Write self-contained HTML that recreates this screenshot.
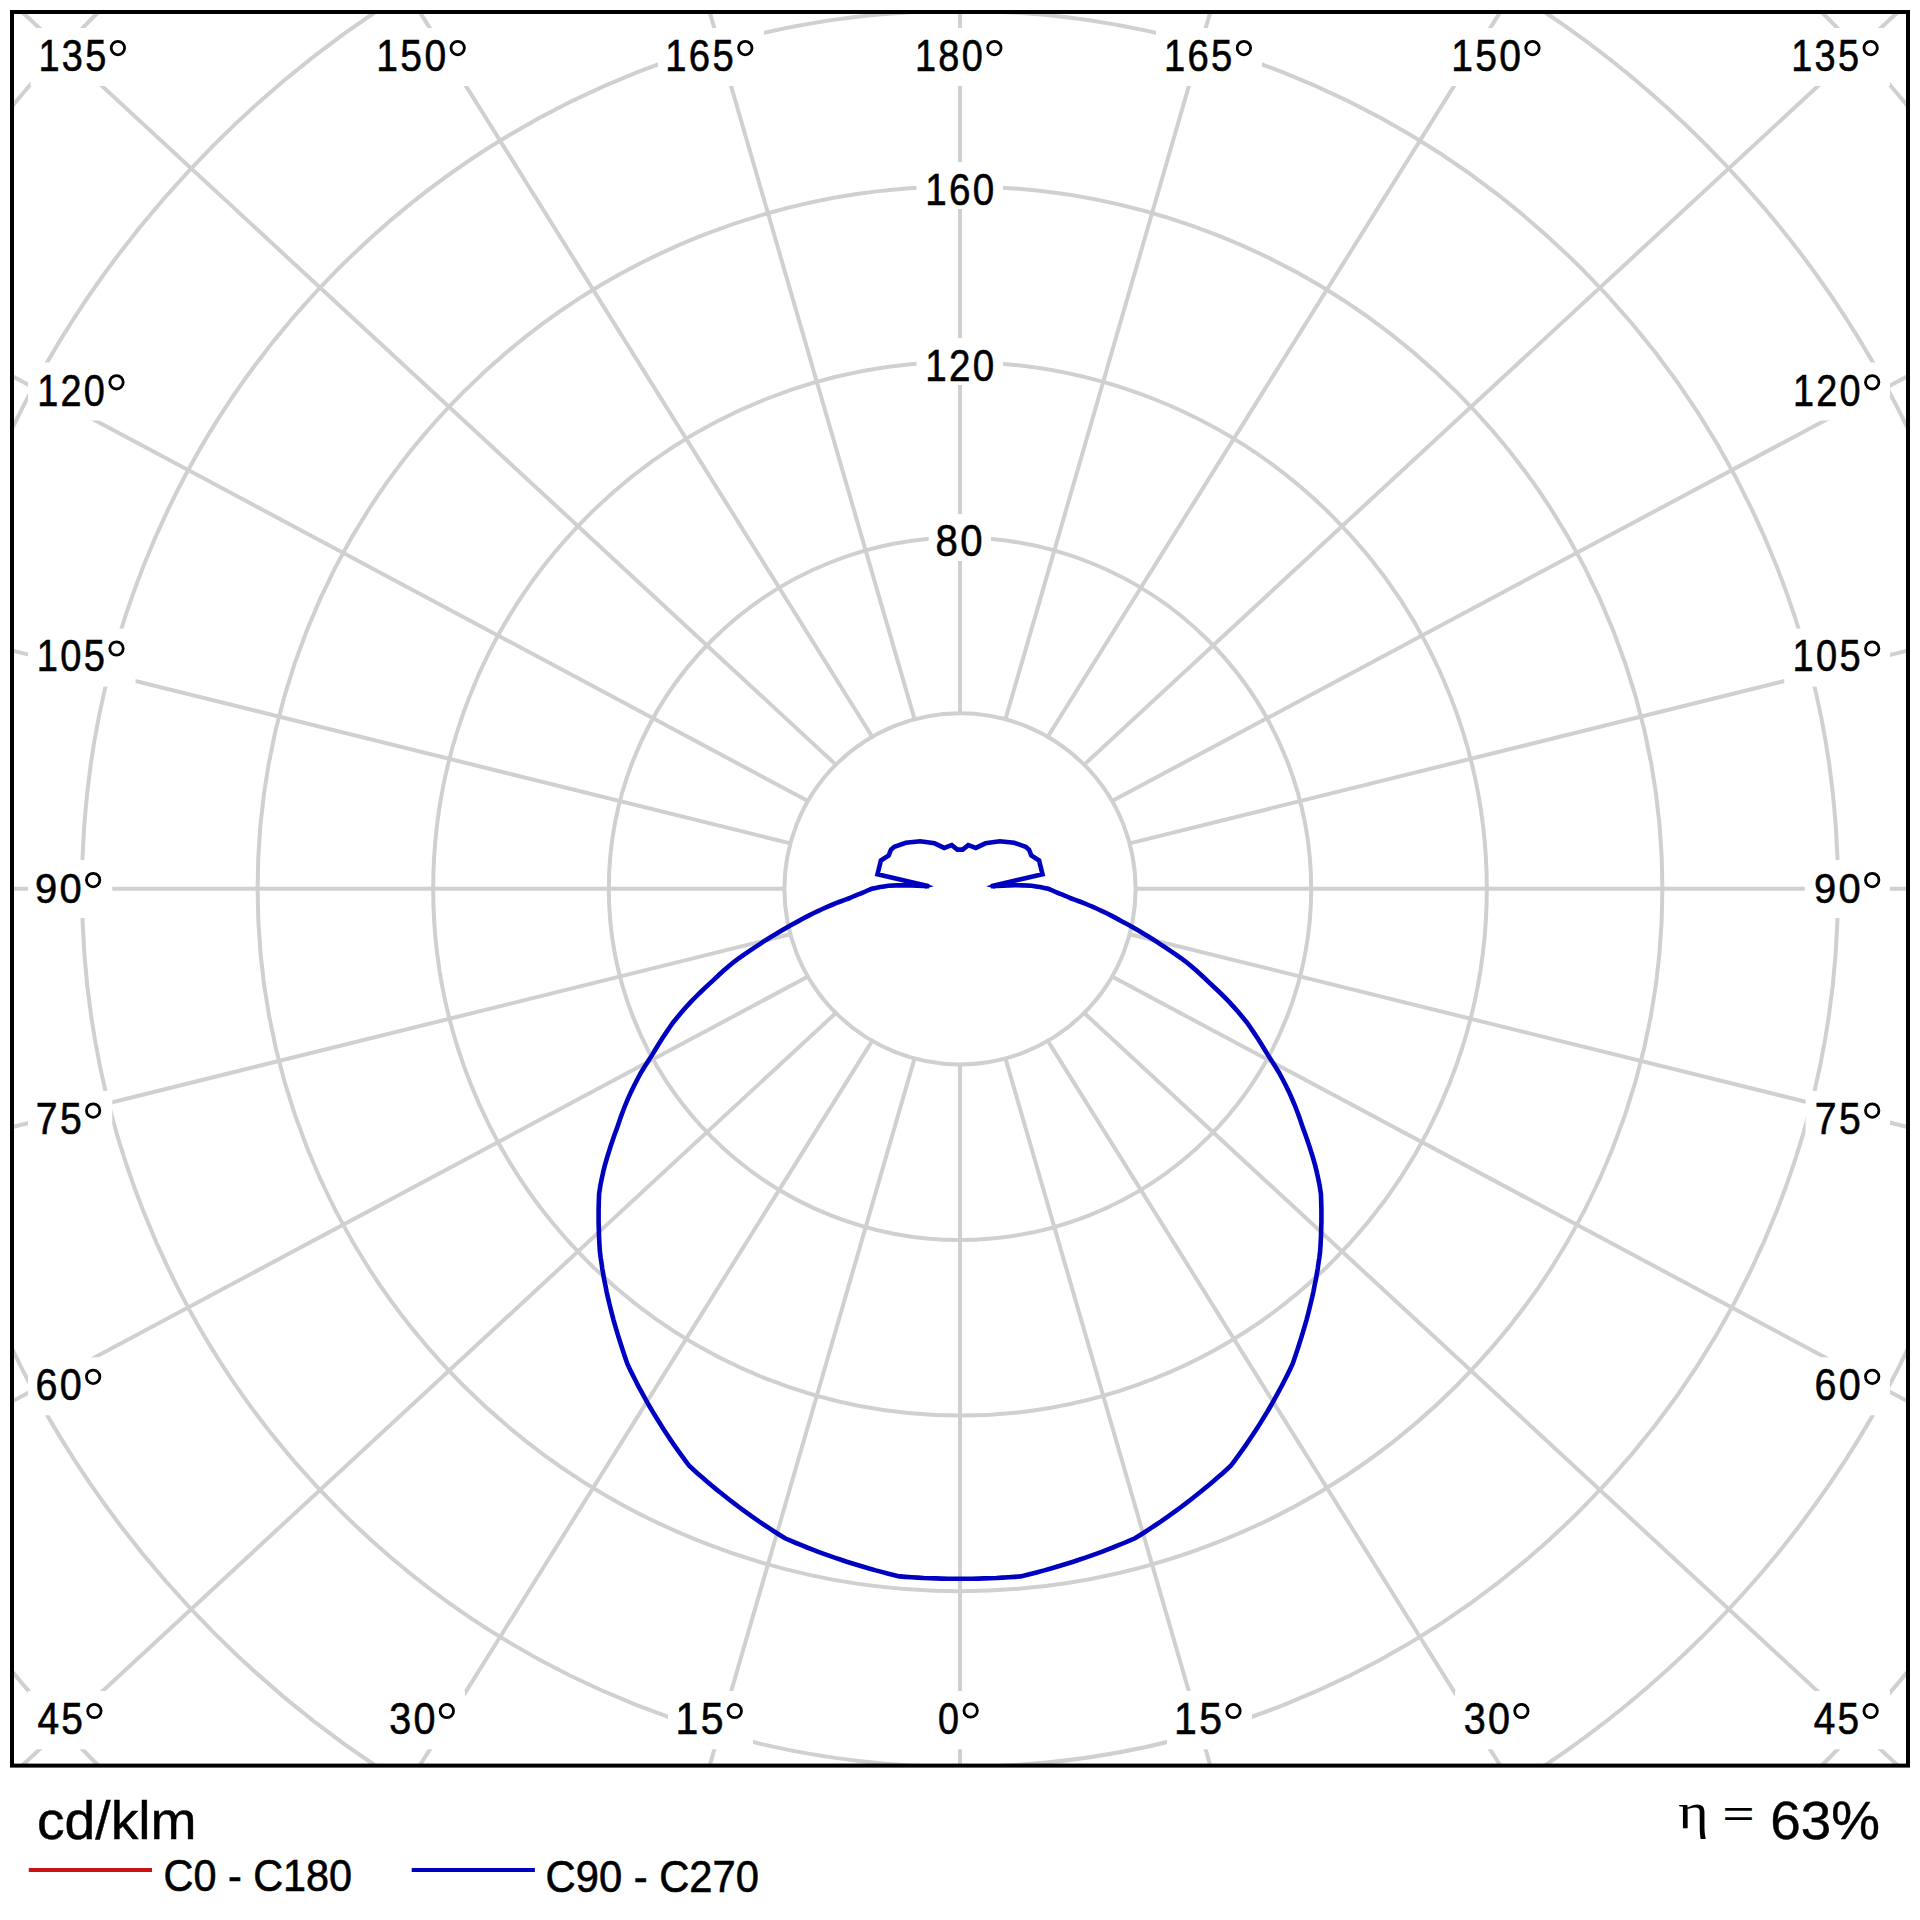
<!DOCTYPE html>
<html><head><meta charset="utf-8"><style>html,body{margin:0;padding:0;background:#fff;}svg{display:block;}</style></head>
<body>
<svg width="1920" height="1920" viewBox="0 0 1920 1920">
<defs><clipPath id="c"><rect x="12" y="12" width="1896" height="1753.6"/></clipPath></defs>
<rect width="1920" height="1920" fill="#fff"/>
<g clip-path="url(#c)" fill="none" stroke="#d0d0d0" stroke-width="4">
<circle cx="960.0" cy="888.8" r="175.60"/>
<circle cx="960.0" cy="888.8" r="351.20"/>
<circle cx="960.0" cy="888.8" r="526.80"/>
<circle cx="960.0" cy="888.8" r="702.40"/>
<circle cx="960.0" cy="888.8" r="878.00"/>
<circle cx="960.0" cy="888.8" r="1053.60"/>
<circle cx="960.0" cy="888.8" r="1229.20"/>
<line x1="960.00" y1="1064.40" x2="960.00" y2="4064.40"/>
<line x1="1005.45" y1="1058.42" x2="1840.31" y2="3939.91"/>
<line x1="1047.80" y1="1040.87" x2="2636.50" y2="3585.68"/>
<line x1="1084.17" y1="1012.97" x2="3286.67" y2="3049.87"/>
<line x1="1112.07" y1="976.60" x2="3758.46" y2="2389.62"/>
<line x1="1129.62" y1="934.25" x2="4041.54" y2="1655.83"/>
<line x1="1135.60" y1="888.80" x2="4135.60" y2="888.80"/>
<line x1="1129.62" y1="843.35" x2="4041.54" y2="121.77"/>
<line x1="1112.07" y1="801.00" x2="3758.46" y2="-612.02"/>
<line x1="1084.17" y1="764.63" x2="3286.67" y2="-1272.27"/>
<line x1="1047.80" y1="736.73" x2="2636.50" y2="-1808.08"/>
<line x1="1005.45" y1="719.18" x2="1840.31" y2="-2162.31"/>
<line x1="960.00" y1="713.20" x2="960.00" y2="-2286.80"/>
<line x1="914.55" y1="719.18" x2="79.69" y2="-2162.31"/>
<line x1="872.20" y1="736.73" x2="-716.50" y2="-1808.08"/>
<line x1="835.83" y1="764.63" x2="-1366.67" y2="-1272.27"/>
<line x1="807.93" y1="801.00" x2="-1838.46" y2="-612.02"/>
<line x1="790.38" y1="843.35" x2="-2121.54" y2="121.77"/>
<line x1="784.40" y1="888.80" x2="-2215.60" y2="888.80"/>
<line x1="790.38" y1="934.25" x2="-2121.54" y2="1655.83"/>
<line x1="807.93" y1="976.60" x2="-1838.46" y2="2389.62"/>
<line x1="835.83" y1="1012.97" x2="-1366.67" y2="3049.87"/>
<line x1="872.20" y1="1040.87" x2="-716.50" y2="3585.68"/>
<line x1="914.55" y1="1058.42" x2="79.69" y2="3939.91"/>
</g>
<path d="M960.0,1578.7 L953.9,1578.7 L947.9,1578.7 L941.8,1578.6 L935.7,1578.4 L929.7,1578.2 L923.6,1578.0 L917.6,1577.6 L911.5,1577.3 L905.4,1576.9 L899.4,1576.4 L893.5,1575.0 L887.5,1573.5 L881.6,1571.9 L875.8,1570.4 L869.9,1568.7 L864.1,1567.0 L858.3,1565.3 L852.5,1563.5 L846.7,1561.7 L841.0,1559.8 L835.3,1557.9 L829.6,1555.9 L823.9,1553.8 L818.3,1551.8 L812.7,1549.6 L807.1,1547.5 L801.5,1545.2 L796.0,1543.0 L790.5,1540.7 L785.0,1538.3 L779.8,1535.0 L774.6,1531.7 L769.5,1528.4 L764.4,1525.0 L759.3,1521.6 L754.3,1518.1 L749.4,1514.6 L744.5,1511.1 L739.6,1507.5 L734.8,1503.9 L730.0,1500.2 L725.3,1496.5 L720.6,1492.8 L716.0,1489.1 L711.4,1485.3 L706.9,1481.4 L702.4,1477.6 L697.9,1473.7 L693.5,1469.8 L689.2,1465.8 L685.3,1460.6 L681.5,1455.4 L677.7,1450.1 L674.0,1444.9 L670.4,1439.6 L666.9,1434.3 L663.4,1428.9 L660.0,1423.6 L656.7,1418.2 L653.4,1412.9 L650.2,1407.5 L647.1,1402.1 L644.1,1396.7 L641.1,1391.2 L638.2,1385.8 L635.4,1380.3 L632.7,1374.9 L630.0,1369.4 L627.4,1363.9 L625.0,1357.0 L622.7,1350.1 L620.5,1343.2 L618.1,1335.6 L615.8,1327.9 L613.6,1320.3 L611.6,1312.7 L609.7,1305.0 L607.9,1297.4 L606.6,1291.7 L605.5,1285.9 L604.3,1280.2 L603.3,1274.5 L602.3,1268.8 L601.5,1263.0 L600.6,1257.3 L599.9,1251.6 L599.4,1243.9 L599.0,1236.2 L598.8,1228.6 L598.6,1222.4 L598.6,1216.2 L598.6,1210.0 L598.8,1202.0 L599.1,1194.0 L600.5,1184.7 L601.8,1178.4 L603.2,1172.1 L604.7,1165.9 L607.4,1156.5 L610.3,1147.2 L612.4,1140.9 L614.6,1134.6 L616.9,1128.4 L618.9,1122.5 L620.9,1116.6 L623.1,1110.8 L625.3,1105.0 L628.0,1098.7 L630.8,1092.4 L633.8,1086.2 L637.4,1079.2 L641.2,1072.2 L644.9,1066.2 L648.7,1060.2 L652.5,1054.4 L655.7,1049.0 L658.9,1043.7 L662.2,1038.5 L665.8,1033.1 L669.4,1027.7 L673.1,1022.5 L677.4,1017.3 L681.7,1012.1 L686.1,1007.1 L690.6,1002.1 L695.6,997.0 L700.7,992.0 L705.8,987.2 L711.0,982.4 L715.3,978.3 L719.6,974.3 L724.0,970.3 L728.4,966.5 L732.9,962.7 L738.3,958.7 L743.7,954.8 L749.2,951.1 L754.8,947.4 L760.2,943.8 L765.7,940.2 L771.2,936.8 L776.7,933.5 L782.0,930.3 L787.3,927.2 L792.6,924.3 L798.0,921.4 L803.1,918.6 L808.2,915.9 L813.3,913.3 L817.9,911.1 L822.4,909.0 L827.1,906.9 L831.7,905.0 L836.0,903.2 L840.4,901.5 L844.8,899.8 L849.2,898.3 L852.0,897.0 L854.8,895.8 L857.6,894.7 L860.5,893.6 L863.3,892.5 L865.4,891.5 L867.5,890.5 L869.6,889.6 L871.7,888.8 L875.8,887.9 L880.0,887.1 L884.1,886.4 L888.3,885.8 L896.7,885.4 L905.0,885.2 L917.0,885.6 L929.0,886.2 L877.5,874.2 L878.9,868.6 L880.9,860.5 L888.7,855.4 L891.0,849.6 L894.4,846.8 L905.8,842.8 L920.2,841.3 L934.5,843.3 L944.2,847.9 L951.7,845.1 L957.4,849.6 L962.6,849.6 L968.3,845.1 L975.8,847.9 L985.5,843.3 L999.8,841.3 L1014.2,842.8 L1025.6,846.8 L1029.0,849.6 L1031.3,855.4 L1039.1,860.5 L1041.1,868.6 L1042.5,874.2 L991.0,886.2 L1003.0,885.6 L1015.0,885.2 L1023.3,885.4 L1031.7,885.8 L1035.9,886.4 L1040.0,887.1 L1044.2,887.9 L1048.3,888.8 L1050.4,889.6 L1052.5,890.5 L1054.6,891.5 L1056.7,892.5 L1059.5,893.6 L1062.4,894.7 L1065.2,895.8 L1068.0,897.0 L1070.8,898.3 L1075.2,899.8 L1079.6,901.5 L1084.0,903.2 L1088.3,905.0 L1092.9,906.9 L1097.6,909.0 L1102.1,911.1 L1106.7,913.3 L1111.8,915.9 L1116.9,918.6 L1122.0,921.4 L1127.4,924.3 L1132.7,927.2 L1138.0,930.3 L1143.3,933.5 L1148.8,936.8 L1154.3,940.2 L1159.8,943.8 L1165.2,947.4 L1170.8,951.1 L1176.3,954.8 L1181.7,958.7 L1187.1,962.7 L1191.6,966.5 L1196.0,970.3 L1200.4,974.3 L1204.7,978.3 L1209.0,982.4 L1214.2,987.2 L1219.3,992.0 L1224.4,997.0 L1229.4,1002.1 L1233.9,1007.1 L1238.3,1012.1 L1242.6,1017.3 L1246.9,1022.5 L1250.6,1027.7 L1254.2,1033.1 L1257.8,1038.5 L1261.1,1043.7 L1264.3,1049.0 L1267.5,1054.4 L1271.3,1060.2 L1275.1,1066.2 L1278.8,1072.2 L1282.6,1079.2 L1286.2,1086.2 L1289.2,1092.4 L1292.0,1098.7 L1294.7,1105.0 L1296.9,1110.8 L1299.1,1116.6 L1301.1,1122.5 L1303.1,1128.4 L1305.4,1134.6 L1307.6,1140.9 L1309.7,1147.2 L1312.6,1156.5 L1315.3,1165.9 L1316.8,1172.1 L1318.2,1178.4 L1319.5,1184.7 L1320.9,1194.0 L1321.2,1202.0 L1321.4,1210.0 L1321.4,1216.2 L1321.4,1222.4 L1321.2,1228.6 L1321.0,1236.2 L1320.6,1243.9 L1320.1,1251.6 L1319.4,1257.3 L1318.5,1263.0 L1317.7,1268.8 L1316.7,1274.5 L1315.7,1280.2 L1314.5,1285.9 L1313.4,1291.7 L1312.1,1297.4 L1310.3,1305.0 L1308.4,1312.7 L1306.4,1320.3 L1304.2,1327.9 L1301.9,1335.6 L1299.5,1343.2 L1297.3,1350.1 L1295.0,1357.0 L1292.6,1363.9 L1290.0,1369.4 L1287.3,1374.9 L1284.6,1380.3 L1281.8,1385.8 L1278.9,1391.2 L1275.9,1396.7 L1272.9,1402.1 L1269.8,1407.5 L1266.6,1412.9 L1263.3,1418.2 L1260.0,1423.6 L1256.6,1428.9 L1253.1,1434.3 L1249.6,1439.6 L1246.0,1444.9 L1242.3,1450.1 L1238.5,1455.4 L1234.7,1460.6 L1230.8,1465.8 L1226.5,1469.8 L1222.1,1473.7 L1217.6,1477.6 L1213.1,1481.4 L1208.6,1485.3 L1204.0,1489.1 L1199.4,1492.8 L1194.7,1496.5 L1190.0,1500.2 L1185.2,1503.9 L1180.4,1507.5 L1175.5,1511.1 L1170.6,1514.6 L1165.7,1518.1 L1160.7,1521.6 L1155.6,1525.0 L1150.5,1528.4 L1145.4,1531.7 L1140.2,1535.0 L1135.0,1538.3 L1129.5,1540.7 L1124.0,1543.0 L1118.5,1545.2 L1112.9,1547.5 L1107.3,1549.6 L1101.7,1551.8 L1096.1,1553.8 L1090.4,1555.9 L1084.7,1557.9 L1079.0,1559.8 L1073.3,1561.7 L1067.5,1563.5 L1061.7,1565.3 L1055.9,1567.0 L1050.1,1568.7 L1044.2,1570.4 L1038.4,1571.9 L1032.5,1573.5 L1026.5,1575.0 L1020.6,1576.4 L1014.6,1576.9 L1008.5,1577.3 L1002.4,1577.6 L996.4,1578.0 L990.3,1578.2 L984.3,1578.4 L978.2,1578.6 L972.1,1578.7 L966.1,1578.7 Z" fill="none" stroke="#0000c0" stroke-width="4.6" stroke-linejoin="miter" stroke-miterlimit="4"/>
<polygon points="925,883.6 933.8,886.3 925,888.7" fill="#0000c0"/><polygon points="995.0,883.6 986.2,886.3 995.0,888.7" fill="#0000c0"/>
<rect x="30.50" y="28.00" width="106.50" height="58.00" fill="#fff"/>
<rect x="369.00" y="28.00" width="107.00" height="58.00" fill="#fff"/>
<rect x="658.00" y="28.00" width="106.00" height="58.00" fill="#fff"/>
<rect x="907.00" y="28.00" width="106.00" height="58.00" fill="#fff"/>
<rect x="1156.00" y="28.00" width="106.00" height="58.00" fill="#fff"/>
<rect x="1444.00" y="28.00" width="107.00" height="58.00" fill="#fff"/>
<rect x="1783.00" y="28.00" width="107.00" height="58.00" fill="#fff"/>
<rect x="28.00" y="362.53" width="107.60" height="58.00" fill="#fff"/>
<rect x="1784.70" y="362.53" width="105.30" height="58.00" fill="#fff"/>
<rect x="28.00" y="628.55" width="107.60" height="58.00" fill="#fff"/>
<rect x="1784.30" y="628.55" width="105.70" height="58.00" fill="#fff"/>
<rect x="28.00" y="859.95" width="84.25" height="58.00" fill="#fff"/>
<rect x="1804.75" y="859.95" width="85.25" height="58.00" fill="#fff"/>
<rect x="28.00" y="1090.85" width="84.25" height="58.00" fill="#fff"/>
<rect x="1805.55" y="1090.85" width="84.45" height="58.00" fill="#fff"/>
<rect x="28.00" y="1357.30" width="84.25" height="58.00" fill="#fff"/>
<rect x="1805.15" y="1357.30" width="84.85" height="58.00" fill="#fff"/>
<rect x="28.00" y="1691.00" width="85.00" height="58.30" fill="#fff"/>
<rect x="380.00" y="1691.00" width="85.00" height="58.30" fill="#fff"/>
<rect x="668.00" y="1691.00" width="85.00" height="58.30" fill="#fff"/>
<rect x="929.00" y="1691.00" width="60.00" height="58.30" fill="#fff"/>
<rect x="1167.00" y="1691.00" width="85.00" height="58.30" fill="#fff"/>
<rect x="1455.00" y="1691.00" width="85.00" height="58.30" fill="#fff"/>
<rect x="1803.00" y="1691.00" width="87.00" height="58.30" fill="#fff"/>
<rect x="916.50" y="162.00" width="86.50" height="47.00" fill="#fff"/>
<rect x="916.50" y="338.00" width="86.50" height="47.00" fill="#fff"/>
<rect x="928.75" y="514.00" width="62.25" height="47.00" fill="#fff"/>
<circle cx="117.90" cy="48.10" r="6.70" fill="none" stroke="#000" stroke-width="2.8"/>
<text transform="translate(38.48,71.05) scale(0.3792,0.4392)" font-family="Liberation Sans" font-size="100" letter-spacing="6" fill="#000" stroke="#000" stroke-width="1.4">135</text>
<circle cx="457.70" cy="48.10" r="6.70" fill="none" stroke="#000" stroke-width="2.8"/>
<text transform="translate(376.35,71.05) scale(0.3901,0.4392)" font-family="Liberation Sans" font-size="100" letter-spacing="6" fill="#000" stroke="#000" stroke-width="1.4">150</text>
<circle cx="745.30" cy="48.10" r="6.70" fill="none" stroke="#000" stroke-width="2.8"/>
<text transform="translate(665.31,71.05) scale(0.3824,0.4392)" font-family="Liberation Sans" font-size="100" letter-spacing="6" fill="#000" stroke="#000" stroke-width="1.4">165</text>
<circle cx="994.40" cy="48.10" r="6.70" fill="none" stroke="#000" stroke-width="2.8"/>
<text transform="translate(915.03,71.05) scale(0.3789,0.4392)" font-family="Liberation Sans" font-size="100" letter-spacing="6" fill="#000" stroke="#000" stroke-width="1.4">180</text>
<circle cx="1243.90" cy="48.10" r="6.70" fill="none" stroke="#000" stroke-width="2.8"/>
<text transform="translate(1163.91,71.05) scale(0.3824,0.4392)" font-family="Liberation Sans" font-size="100" letter-spacing="6" fill="#000" stroke="#000" stroke-width="1.4">165</text>
<circle cx="1532.50" cy="48.10" r="6.70" fill="none" stroke="#000" stroke-width="2.8"/>
<text transform="translate(1451.15,71.05) scale(0.3901,0.4392)" font-family="Liberation Sans" font-size="100" letter-spacing="6" fill="#000" stroke="#000" stroke-width="1.4">150</text>
<circle cx="1870.65" cy="48.10" r="6.70" fill="none" stroke="#000" stroke-width="2.8"/>
<text transform="translate(1791.23,71.05) scale(0.3792,0.4392)" font-family="Liberation Sans" font-size="100" letter-spacing="6" fill="#000" stroke="#000" stroke-width="1.4">135</text>
<circle cx="116.50" cy="382.30" r="6.70" fill="none" stroke="#000" stroke-width="2.8"/>
<text transform="translate(37.24,405.50) scale(0.3783,0.4427)" font-family="Liberation Sans" font-size="100" letter-spacing="6" fill="#000" stroke="#000" stroke-width="1.4">120</text>
<circle cx="1872.20" cy="382.30" r="6.70" fill="none" stroke="#000" stroke-width="2.8"/>
<text transform="translate(1792.94,405.50) scale(0.3783,0.4427)" font-family="Liberation Sans" font-size="100" letter-spacing="6" fill="#000" stroke="#000" stroke-width="1.4">120</text>
<circle cx="116.50" cy="648.50" r="6.70" fill="none" stroke="#000" stroke-width="2.8"/>
<text transform="translate(36.82,671.36) scale(0.3806,0.4378)" font-family="Liberation Sans" font-size="100" letter-spacing="6" fill="#000" stroke="#000" stroke-width="1.4">105</text>
<circle cx="1872.20" cy="648.50" r="6.70" fill="none" stroke="#000" stroke-width="2.8"/>
<text transform="translate(1792.52,671.36) scale(0.3806,0.4378)" font-family="Liberation Sans" font-size="100" letter-spacing="6" fill="#000" stroke="#000" stroke-width="1.4">105</text>
<circle cx="93.15" cy="880.10" r="6.70" fill="none" stroke="#000" stroke-width="2.8"/>
<text transform="translate(34.98,902.57) scale(0.3990,0.4323)" font-family="Liberation Sans" font-size="100" letter-spacing="6" fill="#000" stroke="#000" stroke-width="1.4">90</text>
<circle cx="1872.20" cy="880.10" r="6.70" fill="none" stroke="#000" stroke-width="2.8"/>
<text transform="translate(1814.03,902.57) scale(0.3990,0.4323)" font-family="Liberation Sans" font-size="100" letter-spacing="6" fill="#000" stroke="#000" stroke-width="1.4">90</text>
<circle cx="93.15" cy="1110.60" r="6.70" fill="none" stroke="#000" stroke-width="2.8"/>
<text transform="translate(35.82,1133.85) scale(0.3917,0.4434)" font-family="Liberation Sans" font-size="100" letter-spacing="6" fill="#000" stroke="#000" stroke-width="1.4">75</text>
<circle cx="1872.20" cy="1110.60" r="6.70" fill="none" stroke="#000" stroke-width="2.8"/>
<text transform="translate(1814.87,1133.85) scale(0.3917,0.4434)" font-family="Liberation Sans" font-size="100" letter-spacing="6" fill="#000" stroke="#000" stroke-width="1.4">75</text>
<circle cx="93.15" cy="1376.85" r="6.70" fill="none" stroke="#000" stroke-width="2.8"/>
<text transform="translate(35.40,1400.49) scale(0.3953,0.4489)" font-family="Liberation Sans" font-size="100" letter-spacing="6" fill="#000" stroke="#000" stroke-width="1.4">60</text>
<circle cx="1872.20" cy="1376.85" r="6.70" fill="none" stroke="#000" stroke-width="2.8"/>
<text transform="translate(1814.45,1400.49) scale(0.3953,0.4489)" font-family="Liberation Sans" font-size="100" letter-spacing="6" fill="#000" stroke="#000" stroke-width="1.4">60</text>
<circle cx="94.40" cy="1711.00" r="6.70" fill="none" stroke="#000" stroke-width="2.8"/>
<text transform="translate(37.39,1734.05) scale(0.3888,0.4406)" font-family="Liberation Sans" font-size="100" letter-spacing="6" fill="#000" stroke="#000" stroke-width="1.4">45</text>
<circle cx="446.85" cy="1711.00" r="6.70" fill="none" stroke="#000" stroke-width="2.8"/>
<text transform="translate(389.15,1734.05) scale(0.3949,0.4406)" font-family="Liberation Sans" font-size="100" letter-spacing="6" fill="#000" stroke="#000" stroke-width="1.4">30</text>
<circle cx="734.80" cy="1711.00" r="6.70" fill="none" stroke="#000" stroke-width="2.8"/>
<text transform="translate(675.41,1734.05) scale(0.4098,0.4406)" font-family="Liberation Sans" font-size="100" letter-spacing="6" fill="#000" stroke="#000" stroke-width="1.4">15</text>
<circle cx="970.65" cy="1710.50" r="6.70" fill="none" stroke="#000" stroke-width="2.8"/>
<text transform="translate(937.95,1733.94) scale(0.3775,0.4461)" font-family="Liberation Sans" font-size="100" letter-spacing="6" fill="#000" stroke="#000" stroke-width="1.4">0</text>
<circle cx="1233.50" cy="1711.00" r="6.70" fill="none" stroke="#000" stroke-width="2.8"/>
<text transform="translate(1174.11,1734.05) scale(0.4098,0.4406)" font-family="Liberation Sans" font-size="100" letter-spacing="6" fill="#000" stroke="#000" stroke-width="1.4">15</text>
<circle cx="1521.40" cy="1711.00" r="6.70" fill="none" stroke="#000" stroke-width="2.8"/>
<text transform="translate(1463.70,1734.05) scale(0.3949,0.4406)" font-family="Liberation Sans" font-size="100" letter-spacing="6" fill="#000" stroke="#000" stroke-width="1.4">30</text>
<circle cx="1870.65" cy="1711.00" r="6.70" fill="none" stroke="#000" stroke-width="2.8"/>
<text transform="translate(1813.70,1734.05) scale(0.3883,0.4406)" font-family="Liberation Sans" font-size="100" letter-spacing="6" fill="#000" stroke="#000" stroke-width="1.4">45</text>
<text transform="translate(925.18,205.26) scale(0.3860,0.4365)" font-family="Liberation Sans" font-size="100" letter-spacing="6" fill="#000" stroke="#000" stroke-width="1.4">160</text>
<text transform="translate(925.28,381.16) scale(0.3860,0.4365)" font-family="Liberation Sans" font-size="100" letter-spacing="6" fill="#000" stroke="#000" stroke-width="1.4">120</text>
<text transform="translate(935.57,556.45) scale(0.4017,0.4406)" font-family="Liberation Sans" font-size="100" letter-spacing="6" fill="#000" stroke="#000" stroke-width="1.4">80</text>
<rect x="12" y="12" width="1896" height="1753.6" fill="none" stroke="#000" stroke-width="4"/>
<text transform="translate(36.91,1838.85) scale(0.5531,0.5334)" font-family="Liberation Sans" font-size="100" letter-spacing="0" fill="#000" stroke="#000" stroke-width="0.8">cd/klm</text>
<line x1="28.75" y1="1870" x2="152" y2="1870" stroke="#c81414" stroke-width="4"/>
<text transform="translate(163.62,1890.85) scale(0.4135,0.4392)" font-family="Liberation Sans" font-size="100" letter-spacing="0" fill="#000" stroke="#000" stroke-width="1.4">C0 - C180</text>
<line x1="411.7" y1="1870" x2="534.9" y2="1870" stroke="#0000c0" stroke-width="4"/>
<text transform="translate(545.61,1891.60) scale(0.4172,0.4385)" font-family="Liberation Sans" font-size="100" letter-spacing="0" fill="#000" stroke="#000" stroke-width="1.4">C90 - C270</text>
<text transform="translate(1678.24,1828.19) scale(0.5822,0.5147)" font-family="Liberation Serif" font-size="100" letter-spacing="0" fill="#000" stroke="#000" stroke-width="0">η</text>
<text transform="translate(1722.56,1826.32) scale(0.5479,0.3656)" font-family="Liberation Sans" font-size="100" letter-spacing="0" fill="#000" stroke="#000" stroke-width="0">=</text>
<text transform="translate(1770.18,1839.05) scale(0.5482,0.5390)" font-family="Liberation Sans" font-size="100" letter-spacing="0" fill="#000" stroke="#000" stroke-width="0.8">63%</text>
</svg>
</body></html>
